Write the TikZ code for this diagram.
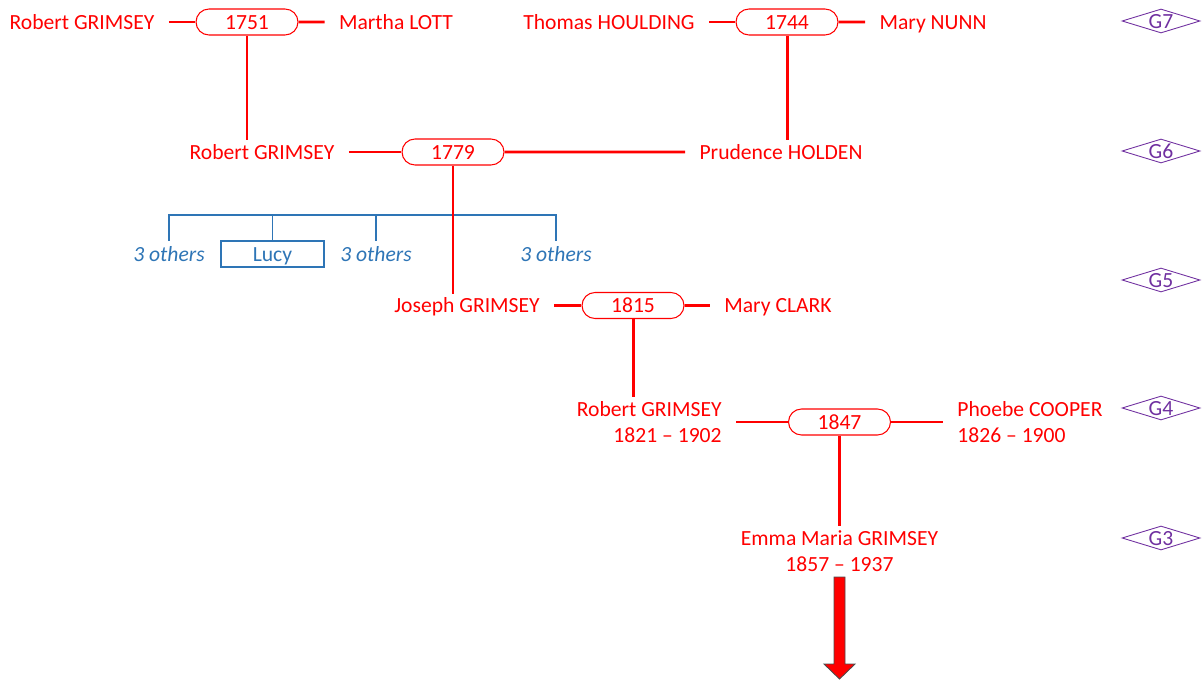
\documentclass[tikz,border=0pt]{standalone}
\usepackage{fontspec}
\setmainfont{Carlito}
\usetikzlibrary{positioning,shapes.misc,shapes.geometric}
\definecolor{famred}{HTML}{FF0000}
\definecolor{kidblue}{HTML}{2E75B6}
\definecolor{genpurple}{HTML}{7030A0}

\begin{document}
\begin{tikzpicture}[x=0.02cm, y=-0.02cm, font=\fontsize{12.3}{15.2}\selectfont]
        \tikzset{
            person/.style ={text=famred, inner xsep=8pt, inner ysep=2pt,
                            text height=0.85em, text depth=0.05em},
            persontwo/.style={text=famred, inner xsep=8pt, inner ysep=2.3pt},
            mar/.style    ={draw=famred, text=famred, rounded rectangle, line width=0.6pt,
                            minimum width=2.04cm, minimum height=0.52cm, inner sep=0pt,
                            text height=0.85em, text depth=0.05em},
            link/.style   ={draw=famred, line width=1.7pt},
            kid/.style    ={draw=kidblue, line width=0.6pt},
            kidtxt/.style ={text=kidblue, execute at begin node=\itshape, inner ysep=2.7pt,
                            text height=0.85em, text depth=0.05em},
            gen/.style    ={draw=genpurple, text=genpurple, diamond, aspect=3.25,
                            line width=0.5pt, inner sep=0pt,
                            minimum width=1.56cm, minimum height=0.48cm,
                            text height=0.85em, text depth=0.05em}
        }
        \useasboundingbox (0,0) rectangle (1203,682);
        %% ---- G7 ----
        \node[person] (rg7)   at (82,  22) {Robert GRIMSEY};
        \node[mar]    (m1751) at (247, 22) {1751};
        \node[person] (ml)    at (396, 22) {Martha LOTT};
        \node[person] (th)    at (609, 22) {Thomas HOULDING};
        \node[mar]    (m1744) at (787, 22) {1744};
        \node[person] (mn)    at (933, 22) {Mary NUNN};
        \draw[link] (rg7) -- (m1751);
        \draw[link] (m1751) -- (ml);
        \draw[link] (th) -- (m1744);
        \draw[link] (m1744) -- (mn);
        %% ---- G6 ----
        \node[person] (rg6)   at (262, 152) {Robert GRIMSEY};
        \node[mar]    (m1779) at (453, 152) {1779};
        \node[person] (ph)    at (781, 152) {Prudence HOLDEN};
        \draw[link] (rg6) -- (m1779);
        \draw[link] (m1779) -- (ph);
        \draw[link] (m1751.south) -- (m1751.south |- rg6.north);
        \draw[link] (m1744.south) -- (m1744.south |- ph.north);
        %% ---- siblings ----
        \coordinate (bar) at (453, 215);
        \node[kidtxt] (o1)   at (169, 254) {3 others};
        \node[draw=kidblue, text=kidblue, line width=0.6pt, inner sep=0pt,
              minimum width=2.06cm, minimum height=0.52cm,
              text height=0.85em, text depth=0.05em] (lucy) at (272.5, 254) {Lucy};
        \node[kidtxt] (o2)   at (376, 254) {3 others};
        \node[kidtxt] (o3)   at (556, 254) {3 others};
        \draw[kid] (o1.north) -- (o1.north |- bar) -- (o3.north |- bar) -- (o3.north);
        \draw[kid] (lucy.north) -- (lucy.north |- bar);
        \draw[kid] (o2.north) -- (o2.north |- bar);
        %% ---- G5 ----
        \node[person] (jg)    at (467, 305.5) {Joseph GRIMSEY};
        \node[mar]    (m1815) at (633, 305.5) {1815};
        \node[person] (mc)    at (778, 305.5) {Mary CLARK};
        \draw[link] (m1779.south) -- (m1779.south |- jg.north);
        \draw[link] (jg) -- (m1815);
        \draw[link] (m1815) -- (mc);
        %% ---- G4 ----
        \node[persontwo, align=right, anchor=east] (rg4) at (736, 422)
             {Robert GRIMSEY\\1821 -- 1902};
        \node[mar]    (m1847) at (839.5, 422) {1847};
        \node[persontwo, align=left, anchor=west]  (pc)  at (943, 422)
             {Phoebe COOPER\\1826 -- 1900};
        \draw[link] (m1815.south) -- (m1815.south |- rg4.north);
        \draw[link] (m1847.west) -- (m1847.west -| rg4.east);
        \draw[link] (m1847.east) -- (m1847.east -| pc.west);
        %% ---- G3 ----
        \node[persontwo, align=center, anchor=north] (em) at (839.5, 526)
             {Emma Maria GRIMSEY\\1857 -- 1937};
        \draw[link] (m1847.south) -- (em.north);
        \coordinate (tail) at (839.5, 577);
        \draw[fill=famred, draw=black!70, line width=0.5pt]
            (tail) +(-5.5,0) -- +(5.5,0) -- +(5.5,87) -- +(15.5,87)
            -- +(0,102) -- +(-15.5,87) -- +(-5.5,87) -- cycle;
        %% ---- generations ----
        \node[gen] (g7) at (1161, 21)  {G7};
        \node[gen] (g6) at (1161, 151) {G6};
        \node[gen] (g5) at (1161, 280) {G5};
        \node[gen] (g4) at (1161, 408) {G4};
        \node[gen] (g3) at (1161, 538) {G3};
    \end{tikzpicture}
\end{document}
